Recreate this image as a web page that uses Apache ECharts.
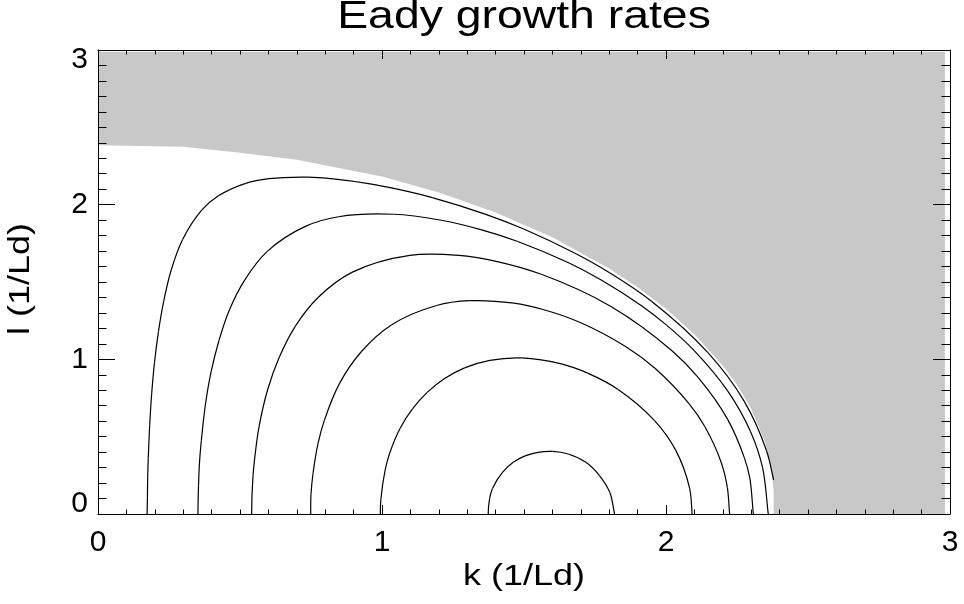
<!DOCTYPE html>
<html>
<head>
<meta charset="utf-8">
<script src="https://cdn.jsdelivr.net/npm/echarts@6/dist/echarts.min.js"></script>
<style>
html,body{margin:0;padding:0;background:#fff;}
#chart{width:964px;height:604px;}
</style>
</head>
<body>
<div id="chart"></div>
<script>
// ---- data (k, l in units of 1/Ld) ----
const titleText = 'Eady growth rates';
const xName = 'k (1/Ld)';
const yName = 'l (1/Ld)';
const xTicks = [0, 1, 2, 3];
const yTicks = [0, 1, 2, 3];
const contourLevels = [0.05, 0.10, 0.15, 0.20, 0.25, 0.30];

// region without growth (grey), outline
const greyRegion = [[0,2.989],[0,2.384],[0.3,2.375],[0.5,2.335],[0.7,2.29],[1.0,2.182],[1.2,2.078],[1.4,1.949],[1.6,1.789],[1.8,1.587],[1.9,1.466],[2.0,1.327],[2.1,1.162],[2.2,0.959],[2.25,0.835],[2.3,0.68],[2.35,0.46],[2.371,0.284],[2.379,0.15],[2.379,0],[2.982,0],[2.982,2.989]];

const c005 = [[0.173,0],[0.174,0.098],[0.175,0.244],[0.177,0.359],[0.182,0.572],[0.189,0.777],[0.199,0.980],[0.213,1.181],[0.232,1.381],[0.258,1.579],[0.298,1.775],[0.366,1.966],[0.424,2.057],[0.520,2.138],[0.602,2.168],[0.739,2.178],[0.828,2.167],[0.958,2.135],[1.050,2.102],[1.177,2.046],[1.363,1.939],[1.497,1.844],[1.678,1.687],[1.800,1.561],[1.950,1.374],[2.146,1.046],[2.275,0.730],[2.354,0.409],[2.379,0.22]];
const c010 = [[0.352,0],[0.354,0.186],[0.358,0.349],[0.364,0.477],[0.378,0.705],[0.398,0.917],[0.426,1.122],[0.463,1.321],[0.517,1.514],[0.596,1.698],[0.732,1.861],[0.847,1.922],[1.041,1.938],[1.204,1.901],[1.348,1.839],[1.478,1.762],[1.655,1.626],[1.772,1.513],[1.915,1.345],[2.002,1.221],[2.100,1.055],[2.217,0.796],[2.297,0.535],[2.340,0.300],[2.360,0]];
const c015 = [[0.541,0],[0.546,0.250],[0.556,0.426],[0.567,0.564],[0.597,0.802],[0.639,1.016],[0.695,1.215],[0.775,1.400],[0.894,1.562],[1.098,1.672],[1.271,1.672],[1.394,1.637],[1.561,1.550],[1.806,1.342],[2.022,1.054],[2.113,0.883],[2.217,0.612],[2.276,0.363],[2.295,0.234],[2.3075,0]];
const c020 = [[0.749,0],[0.750,0.128],[0.757,0.260],[0.775,0.458],[0.797,0.605],[0.851,0.846],[0.927,1.049],[1.033,1.222],[1.192,1.348],[1.308,1.379],[1.464,1.363],[1.567,1.322],[1.694,1.241],[1.859,1.081],[1.961,0.942],[2.081,0.713],[2.136,0.567],[2.195,0.330],[2.216,0.171],[2.224,0]];
const c025 = [[0.994,0],[0.996,0.094],[1.011,0.283],[1.027,0.393],[1.064,0.555],[1.108,0.681],[1.159,0.786],[1.219,0.875],[1.291,0.945],[1.380,0.993],[1.491,1.009],[1.635,0.969],[1.724,0.911],[1.830,0.807],[1.959,0.605],[2.034,0.413],[2.083,0.167],[2.092,0]];
const c030 = [[1.374,0],[1.379,0.101],[1.389,0.165],[1.425,0.270],[1.462,0.334],[1.504,0.376],[1.549,0.399],[1.600,0.405],[1.656,0.388],[1.718,0.334],[1.765,0.25],[1.802,0.14],[1.819,0]];

const contours = [c005, c010, c015, c020, c025, c030];

// ---- chart ----
const FONT = '"Liberation Sans", Arial, Helvetica, sans-serif';
const chart = echarts.init(document.getElementById('chart'), null, {renderer: 'canvas'});

function axisCommon(pos, isX, showLabel) {
  return {
    type: 'value',
    position: pos,
    min: 0,
    max: 3,
    interval: 1,
    z: 10,
    axisLine: {show: true, onZero: false, lineStyle: {color: '#000', width: 1}},
    axisTick: {show: true, inside: true, length: isX ? 9 : 17, lineStyle: {color: '#000', width: 1}},
    minorTick: {show: true, splitNumber: 10, length: isX ? 4.5 : 8.5, lineStyle: {color: '#000', width: 1}},
    splitLine: {show: false},
    minorSplitLine: {show: false},
    axisLabel: showLabel ? (isX ? {
      show: true, color: '#000', fontSize: 30, fontFamily: FONT, margin: 19, lineHeight: 20,
      showMinLabel: true, showMaxLabel: true,
      formatter: v => String(xTicks[Math.round(v)])
    } : {
      show: true, color: '#000', fontSize: 30, fontFamily: FONT, margin: 10, lineHeight: 20,
      showMinLabel: true, showMaxLabel: true,
      verticalAlignMinLabel: 'bottom', verticalAlignMaxLabel: 'top',
      formatter: v => String(yTicks[Math.round(v)])
    }) : {show: false}
  };
}

// centripetal Catmull-Rom through the pixel positions of the data points
function smoothSegments(pix, startOnAxis, mirrorPix) {
  const n = pix.length;
  const ext = [];
  if (startOnAxis) ext.push(mirrorPix); else ext.push([2 * pix[0][0] - pix[1][0], 2 * pix[0][1] - pix[1][1]]);
  for (const p of pix) ext.push(p);
  ext.push([2 * pix[n - 1][0] - pix[n - 2][0], 2 * pix[n - 1][1] - pix[n - 2][1]]);
  const segs = [];
  const dist = (a, b) => Math.max(1e-6, Math.pow(Math.hypot(a[0] - b[0], a[1] - b[1]), 0.5));
  for (let i = 1; i < ext.length - 2; i++) {
    const P0 = ext[i - 1], P1 = ext[i], P2 = ext[i + 1], P3 = ext[i + 2];
    const d1 = dist(P0, P1), d2 = dist(P1, P2), d3 = dist(P2, P3);
    const b1 = [0, 1].map(j => (d1 * d1 * P2[j] - d2 * d2 * P0[j] + (2 * d1 * d1 + 3 * d1 * d2 + d2 * d2) * P1[j]) / (3 * d1 * (d1 + d2)));
    const b2 = [0, 1].map(j => (d3 * d3 * P1[j] - d2 * d2 * P3[j] + (2 * d3 * d3 + 3 * d3 * d2 + d2 * d2) * P2[j]) / (3 * d3 * (d3 + d2)));
    segs.push({x1: P1[0], y1: P1[1], cpx1: b1[0], cpy1: b1[1], cpx2: b2[0], cpy2: b2[1], x2: P2[0], y2: P2[1]});
  }
  return segs;
}

const series = [{
  type: 'custom',
  z: 1,
  silent: true,
  coordinateSystem: 'cartesian2d',
  xAxisIndex: 0, yAxisIndex: 0,
  data: greyRegion,
  encode: {x: 0, y: 1},
  renderItem: function (params, api) {
    if (params.dataIndex !== 0) return null;
    const pts = greyRegion.map(p => api.coord(p));
    return {type: 'polygon', shape: {points: pts}, style: {fill: '#c8c8c8', stroke: null}};
  }
}];

contours.forEach((c, i) => {
  series.push({
    type: 'custom',
    name: 'σ=' + contourLevels[i],
    coordinateSystem: 'cartesian2d',
    xAxisIndex: 0, yAxisIndex: 0,
    data: c,
    encode: {x: 0, y: 1},
    z: 5,
    silent: true,
    renderItem: function (params, api) {
      if (params.dataIndex !== 0) return null;
      const pix = c.map(p => api.coord(p));
      // contour is symmetric about l = 0: mirror the second point for the tangent at the axis
      const mirror = api.coord([c[1][0], -c[1][1]]);
      const segs = smoothSegments(pix, c[0][1] === 0, mirror);
      return {
        type: 'group',
        children: segs.map(s => ({
          type: 'bezierCurve',
          shape: s,
          style: {stroke: '#000', fill: null, lineWidth: 1.2}
        }))
      };
    }
  });
});

chart.setOption({
  animation: false,
  backgroundColor: '#fff',
  grid: {left: 98, right: 14, top: 50, bottom: 90, containLabel: false},
  xAxis: [axisCommon('bottom', true, true), axisCommon('top', true, false)],
  yAxis: [axisCommon('left', false, true), axisCommon('right', false, false)],
  series: series,
  graphic: [
    {type: 'text', x: 524, y: 18, scaleX: 1.22, originX: 0, originY: 0, z: 20,
     style: {text: titleText, font: '38px ' + FONT, fill: '#000', align: 'center', verticalAlign: 'middle', textAlign: 'center', textVerticalAlign: 'middle'}},
    {type: 'text', x: 524, y: 577, scaleX: 1.2, originX: 0, originY: 0, z: 20,
     style: {text: xName, font: '30px ' + FONT, fill: '#000', align: 'center', verticalAlign: 'middle', textAlign: 'center', textVerticalAlign: 'middle'}},
    {type: 'text', x: 21, y: 279, rotation: Math.PI / 2, scaleX: 1.2, originX: 0, originY: 0, z: 20,
     style: {text: yName, font: '30px ' + FONT, fill: '#000', align: 'center', verticalAlign: 'middle', textAlign: 'center', textVerticalAlign: 'middle'}}
  ]
});
</script>
</body>
</html>
